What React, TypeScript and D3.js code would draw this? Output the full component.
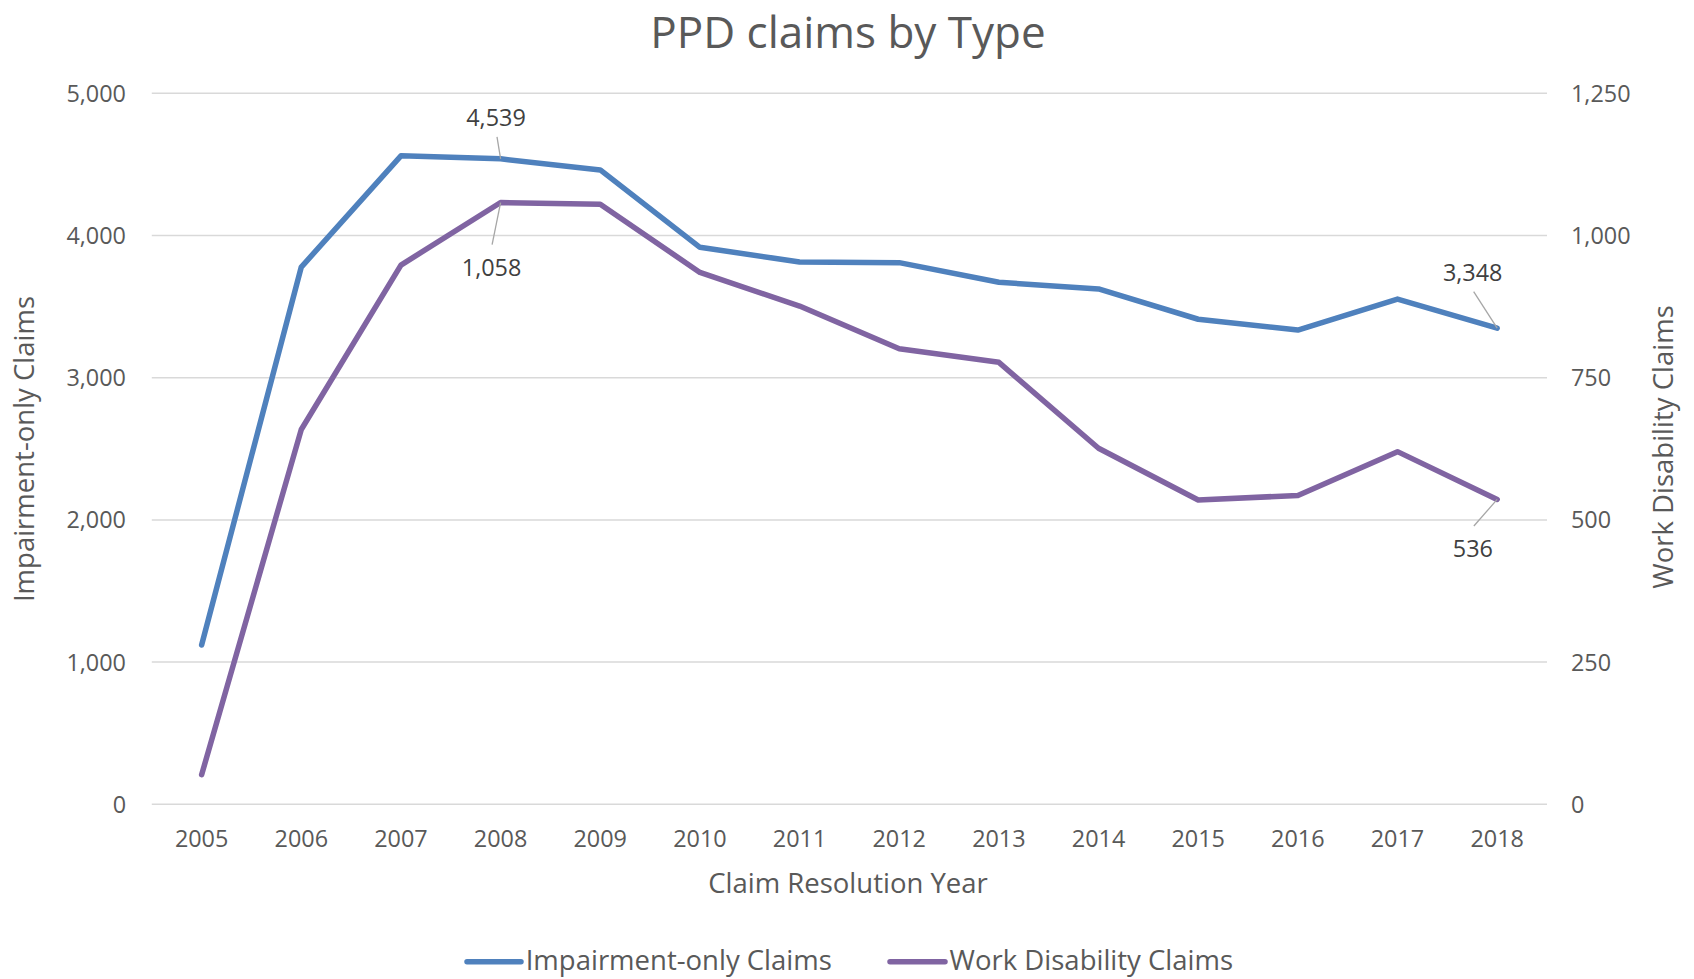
import React from "react";
import * as d3 from "d3";

const years = ["2005","2006","2007","2008","2009","2010","2011","2012","2013","2014","2015","2016","2017","2018"];
const impairmentOnly = [1120, 3778, 4560, 4539, 4461, 3917, 3814, 3809, 3671, 3624, 3411, 3335, 3553, 3348];
const workDisability = [52, 659, 948, 1058, 1055, 935, 876, 801, 777, 626, 535, 543, 620, 536];
const leftTicks = [0, 1000, 2000, 3000, 4000, 5000];
const rightTicks = [0, 250, 500, 750, 1000, 1250];

const W = 1694, H = 979;
const FONT = "'Open Sans', 'Noto Sans', sans-serif";
const BLUE = "#4F81BD";
const PURPLE = "#8064A2";

export default function App() {
  const x = d3.scaleBand<string>().domain(years).range([151.8, 1547]).padding(0);
  const cx = (y: string) => (x(y) as number) + x.bandwidth() / 2;
  const yL = d3.scaleLinear().domain([0, 5000]).range([804.3, 93.3]);
  const yR = d3.scaleLinear().domain([0, 1250]).range([804.3, 93.3]);
  const fmt = d3.format(",");

  const lineL = d3.line<number>().x((_, i) => cx(years[i])).y((d) => yL(d));
  const lineR = d3.line<number>().x((_, i) => cx(years[i])).y((d) => yR(d));

  const labels = [
    { i: 3, v: impairmentOnly[3], y: yL(impairmentOnly[3]), dx: -4.6, dy: -33, l1: -22, lx: 1 },
    { i: 3, v: workDisability[3], y: yR(workDisability[3]), dx: -9, dy: 73, l1: 42, lx: 0.5 },
    { i: 13, v: impairmentOnly[13], y: yL(impairmentOnly[13]), dx: -24.5, dy: -47.5, l1: -36.5, lx: 1 },
    { i: 13, v: workDisability[13], y: yR(workDisability[13]), dx: -24.3, dy: 58, l1: 26.6, lx: 1 },
  ];

  const tickStyle = { fontFamily: FONT, fontSize: 23.4, fill: "#595959" } as const;

  return (
    <svg width={W} height={H} style={{ position: "absolute", left: 0, top: 0, background: "#fff" }}>
      <rect width={W} height={H} fill="#fff" />
      <text x={848} y={48} textAnchor="middle" style={{ fontFamily: FONT, fontSize: 44, fill: "#595959" }}>
        PPD claims by Type
      </text>
      {leftTicks.map((t) => (
        <line key={"g" + t} x1={151.8} x2={1547} y1={yL(t)} y2={yL(t)} stroke="#D9D9D9" strokeWidth={1.5} />
      ))}
      {leftTicks.map((t) => (
        <text key={"l" + t} x={126} y={yL(t)} dy="0.36em" textAnchor="end" style={tickStyle}>
          {fmt(t)}
        </text>
      ))}
      {rightTicks.map((t) => (
        <text key={"r" + t} x={1571} y={yR(t)} dy="0.36em" textAnchor="start" style={tickStyle}>
          {fmt(t)}
        </text>
      ))}
      {years.map((y) => (
        <text key={"x" + y} x={cx(y)} y={846.5} textAnchor="middle" style={tickStyle}>
          {y}
        </text>
      ))}
      <text x={848} y={893} textAnchor="middle" style={{ fontFamily: FONT, fontSize: 27.5, fill: "#595959" }}>
        Claim Resolution Year
      </text>
      <text
        transform={`translate(34, 449) rotate(-90)`}
        textAnchor="middle"
        style={{ fontFamily: FONT, fontSize: 27.5, fill: "#595959" }}
      >
        Impairment-only Claims
      </text>
      <text
        transform={`translate(1673, 447) rotate(-90)`}
        textAnchor="middle"
        style={{ fontFamily: FONT, fontSize: 27.5, fill: "#595959" }}
      >
        Work Disability Claims
      </text>
      <path d={lineL(impairmentOnly) || ""} fill="none" stroke={BLUE} strokeWidth={5.5} strokeLinejoin="round" strokeLinecap="round" />
      <path d={lineR(workDisability) || ""} fill="none" stroke={PURPLE} strokeWidth={5.5} strokeLinejoin="round" strokeLinecap="round" />
      {labels.map((lb, k) => {
        const px = cx(years[lb.i]);
        return (
          <g key={"lab" + k}>
            <line x1={px + lb.dx + lb.lx} y1={lb.y + lb.l1} x2={px} y2={lb.y} stroke="#A6A6A6" strokeWidth={1.3} />
            <text x={px + lb.dx} y={lb.y + lb.dy} textAnchor="middle" style={{ fontFamily: FONT, fontSize: 23.4, fill: "#404040" }}>
              {fmt(lb.v)}
            </text>
          </g>
        );
      })}
      <line x1={467} x2={521} y1={961.7} y2={961.7} stroke={BLUE} strokeWidth={5.5} strokeLinecap="round" />
      <text x={525.7} y={970} style={{ fontFamily: FONT, fontSize: 27.5, fill: "#595959" }}>
        Impairment-only Claims
      </text>
      <line x1={890} x2={945} y1={961.7} y2={961.7} stroke={PURPLE} strokeWidth={5.5} strokeLinecap="round" />
      <text x={949.6} y={970} style={{ fontFamily: FONT, fontSize: 27.5, fill: "#595959" }}>
        Work Disability Claims
      </text>
    </svg>
  );
}
